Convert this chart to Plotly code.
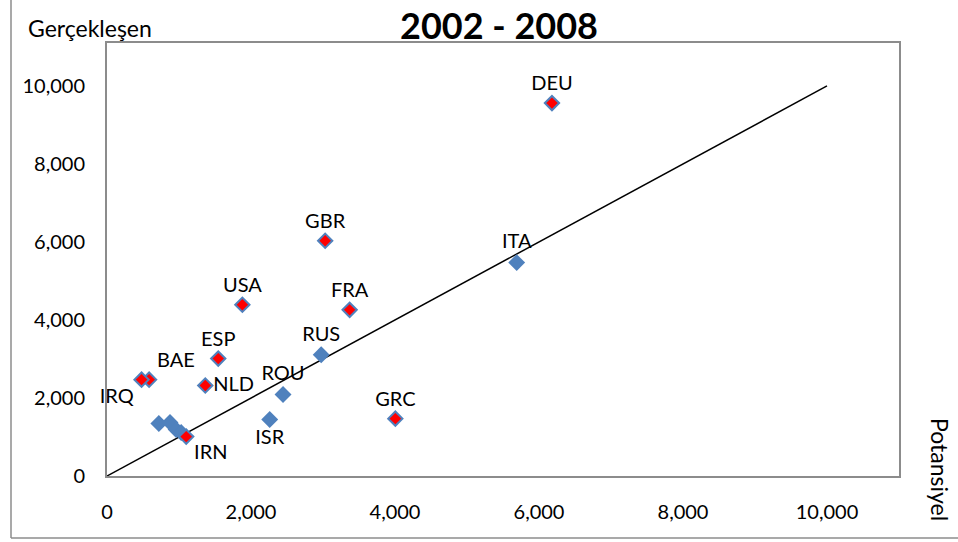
import plotly.graph_objects as go

# Countries shown with the red highlight (potential vs. realised)
red_codes = ["DEU", "GBR", "FRA", "USA", "ESP", "NLD", "BAE", "IRQ", "GRC", "IRN"]
red_potansiyel = [6180, 3030, 3370, 1880, 1545, 1365, 585, 480, 4005, 1100]
red_gerceklesen = [9560, 6030, 4260, 4390, 3010, 2320, 2470, 2470, 1470, 1010]
red_textpos = ["top center", "top center", "top center", "top center", "top center",
               "middle right", "top right", "bottom left", "top center", "bottom right"]

# Remaining countries (blue)
blue_codes = ["ITA", "RUS", "ROU", "ISR", "", "", "", ""]
blue_potansiyel = [5690, 2975, 2445, 2260, 720, 875, 960, 1030]
blue_gerceklesen = [5470, 3110, 2090, 1450, 1345, 1370, 1190, 1115]
blue_textpos = ["top center", "top center", "top center", "bottom center",
                "top center", "top center", "top center", "top center"]

# 45-degree reference line
ref_x = [0, 10000]
ref_y = [0, 10000]

title_text = "2002 - 2008"
y_title = "Gerçekleşen"
x_title = "Potansiyel"
tick_vals = [0, 2000, 4000, 6000, 8000, 10000]

FONT = "Lato"
BLUE = "#4F81BD"
RED = "#FF0000"
GRAY = "#8C8C8C"

fig = go.Figure()

fig.add_trace(go.Scatter(
    x=ref_x, y=ref_y, mode="lines",
    line=dict(color="black", width=1.5),
    hoverinfo="skip", showlegend=False,
))

fig.add_trace(go.Scatter(
    x=blue_potansiyel, y=blue_gerceklesen, mode="markers+text",
    text=blue_codes, textposition=blue_textpos, cliponaxis=False,
    textfont=dict(family=FONT, size=20, color="black"),
    marker=dict(symbol="diamond", size=13, color=BLUE,
                line=dict(color=BLUE, width=0)),
    showlegend=False,
))

fig.add_trace(go.Scatter(
    x=red_potansiyel, y=red_gerceklesen, mode="markers+text",
    text=red_codes, textposition=red_textpos, cliponaxis=False,
    textfont=dict(family=FONT, size=20, color="black"),
    marker=dict(symbol="diamond", size=11, color=RED,
                line=dict(color=BLUE, width=2)),
    showlegend=False,
))

# Plot area geometry (pixels) used to place the outer frame
W, H = 958, 542
L, R, T, B = 107, 59, 43, 66
pw, ph = W - L - R, H - T - B

def px_to_paper_x(px):
    return (px - L) / pw

def py_to_paper_y(py):
    return (H - B - py) / ph

fig.update_layout(
    width=W, height=H,
    margin=dict(l=L, r=R, t=T, b=B),
    paper_bgcolor="white", plot_bgcolor="white",
    font=dict(family=FONT, size=19, color="black"),
    title=dict(text="<b>" + title_text + "</b>", x=499 / W, xanchor="center",
               y=1 - 26 / H, yanchor="middle",
               font=dict(family=FONT, size=36, color="black")),
    xaxis=dict(range=[0, 11000], tickvals=tick_vals, tickformat=",d",
               showgrid=False, zeroline=False,
               showline=True, mirror=True, linecolor=GRAY, linewidth=2,
               ticks="", ticklabelstandoff=17,
               tickfont=dict(family=FONT, size=20)),
    yaxis=dict(range=[0, 11100], tickvals=tick_vals, tickformat=",d",
               showgrid=False, zeroline=False,
               showline=True, mirror=True, linecolor=GRAY, linewidth=2,
               ticks="", ticklabelstandoff=16,
               tickfont=dict(family=FONT, size=20)),
    annotations=[
        dict(text=y_title, xref="paper", yref="paper",
             x=px_to_paper_x(26), y=py_to_paper_y(28),
             xanchor="left", yanchor="middle", showarrow=False,
             font=dict(family=FONT, size=23)),
        dict(text=x_title, xref="paper", yref="paper",
             x=px_to_paper_x(940), y=py_to_paper_y(470),
             xanchor="center", yanchor="middle", showarrow=False,
             textangle=90, font=dict(family=FONT, size=23)),
    ],
    shapes=[
        # outer chart frame (left and bottom edges)
        dict(type="line", xref="paper", yref="paper", layer="below",
             x0=px_to_paper_x(11), y0=py_to_paper_y(-5),
             x1=px_to_paper_x(11), y1=py_to_paper_y(538),
             line=dict(color=GRAY, width=1.5)),
        dict(type="line", xref="paper", yref="paper", layer="below",
             x0=px_to_paper_x(11), y0=py_to_paper_y(538),
             x1=px_to_paper_x(965), y1=py_to_paper_y(538),
             line=dict(color=GRAY, width=1.5)),
    ],
)

fig.write_html("out.html")
